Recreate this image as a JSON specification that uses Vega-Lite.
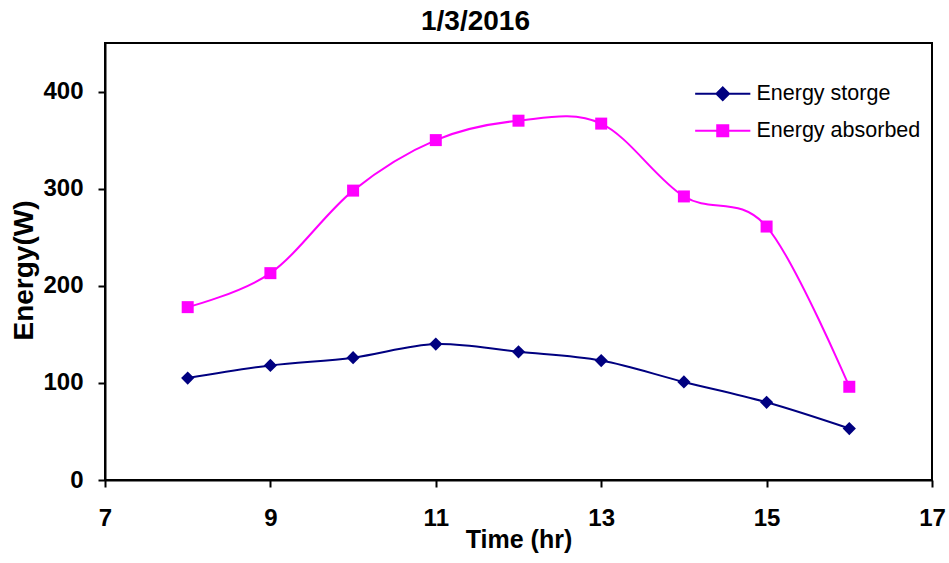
{
  "$schema": "https://vega.github.io/schema/vega-lite/v6.json",
  "autosize": {"type": "none"},
  "width": 827,
  "height": 437,
  "padding": {"left": 105, "top": 43, "right": 17, "bottom": 83},
  "background": "white",
  "config": {
    "font": "Liberation Sans",
    "view": {"stroke": "black", "strokeWidth": 2},
    "axis": {
      "grid": false,
      "domainColor": "black",
      "domainWidth": 2,
      "tickColor": "black",
      "tickWidth": 2,
      "tickSize": 7,
      "labelFont": "Liberation Sans",
      "labelFontSize": 24,
      "labelFontWeight": "bold",
      "labelColor": "black",
      "titleFont": "Liberation Sans",
      "titleFontWeight": "bold",
      "titleColor": "black"
    },
    "legend": {
      "title": null,
      "orient": "none",
      "legendX": 607,
      "legendY": 40,
      "symbolSize": 144,
      "symbolStrokeWidth": 2,
      "symbolOpacity": 1,
      "labelFont": "Liberation Sans",
      "labelFontSize": 21.5,
      "labelLimit": 400,
      "labelColor": "black",
      "labelOffset": 23,
      "rowPadding": 14
    }
  },
  "title": {
    "text": "1/3/2016",
    "font": "Liberation Sans",
    "fontSize": 28,
    "fontWeight": "bold",
    "color": "black",
    "anchor": "middle",
    "baseline": "alphabetic",
    "offset": 13,
    "dx": -43,
    "dy": 28
  },
  "data": {
    "values": [
      {"time": 8, "energy": 105, "series": "Energy storge"},
      {"time": 9, "energy": 118, "series": "Energy storge"},
      {"time": 10, "energy": 126, "series": "Energy storge"},
      {"time": 11, "energy": 140, "series": "Energy storge"},
      {"time": 12, "energy": 132, "series": "Energy storge"},
      {"time": 13, "energy": 123, "series": "Energy storge"},
      {"time": 14, "energy": 101, "series": "Energy storge"},
      {"time": 15, "energy": 80, "series": "Energy storge"},
      {"time": 16, "energy": 53, "series": "Energy storge"},
      {"time": 8, "energy": 178, "series": "Energy absorbed"},
      {"time": 9, "energy": 213, "series": "Energy absorbed"},
      {"time": 10, "energy": 298, "series": "Energy absorbed"},
      {"time": 11, "energy": 350, "series": "Energy absorbed"},
      {"time": 12, "energy": 370, "series": "Energy absorbed"},
      {"time": 13, "energy": 367, "series": "Energy absorbed"},
      {"time": 14, "energy": 292, "series": "Energy absorbed"},
      {"time": 15, "energy": 261, "series": "Energy absorbed"},
      {"time": 16, "energy": 96, "series": "Energy absorbed"}
    ]
  },
  "encoding": {
    "x": {
      "field": "time",
      "type": "quantitative",
      "scale": {"domain": [7, 17], "nice": false, "zero": false},
      "axis": {
        "values": [7, 9, 11, 13, 15, 17],
        "title": "Time (hr)",
        "titleFontSize": 25,
        "titleBaseline": "alphabetic",
        "titleY": 67,
        "labelBaseline": "alphabetic",
        "labelPadding": 38,
        "labelFlush": false
      }
    },
    "y": {
      "field": "energy",
      "type": "quantitative",
      "scale": {"domain": [0, 450], "nice": false},
      "axis": {
        "values": [0, 100, 200, 300, 400],
        "title": "Energy(W)",
        "titleFontSize": 28,
        "titleAngle": 270,
        "titleBaseline": "alphabetic",
        "titleX": -73,
        "titleY": 227,
        "labelPadding": 15
      }
    }
  },
  "layer": [
    {
      "mark": {"type": "line", "interpolate": "cardinal", "strokeWidth": 2},
      "encoding": {
        "color": {
          "field": "series",
          "type": "nominal",
          "scale": {
            "domain": ["Energy storge", "Energy absorbed"],
            "range": ["#000080", "#FF00FF"]
          },
          "legend": null
        }
      }
    },
    {
      "mark": {"type": "point", "filled": true, "opacity": 1, "size": 144},
      "encoding": {
        "color": {
          "field": "series",
          "type": "nominal",
          "scale": {
            "domain": ["Energy storge", "Energy absorbed"],
            "range": ["#000080", "#FF00FF"]
          },
          "legend": null
        },
        "shape": {
          "field": "series",
          "type": "nominal",
          "scale": {
            "domain": ["Energy storge", "Energy absorbed"],
            "range": ["M0,-1.1L1.1,0L0,1.1L-1.1,0Z", "square"]
          },
          "legend": null
        }
      }
    },
    {
      "transform": [{"filter": "datum.time > 100"}],
      "mark": {"type": "point", "filled": true, "strokeWidth": 2},
      "encoding": {
        "fill": {
          "field": "series",
          "type": "nominal",
          "scale": {
            "domain": ["Energy storge", "Energy absorbed"],
            "range": ["#000080", "#FF00FF"]
          }
        },
        "stroke": {
          "field": "series",
          "type": "nominal",
          "scale": {
            "domain": ["Energy storge", "Energy absorbed"],
            "range": ["#000080", "#FF00FF"]
          }
        },
        "shape": {
          "field": "series",
          "type": "nominal",
          "scale": {
            "domain": ["Energy storge", "Energy absorbed"],
            "range": [
              "M-4.6,0H4.6M0,-1.05L1.05,0L0,1.05L-1.05,0Z",
              "M-4.6,0H4.6M-0.92,-0.92H0.92V0.92H-0.92Z"
            ]
          }
        }
      }
    }
  ],
  "resolve": {
    "scale": {"shape": "independent", "fill": "independent", "stroke": "independent"}
  }
}
